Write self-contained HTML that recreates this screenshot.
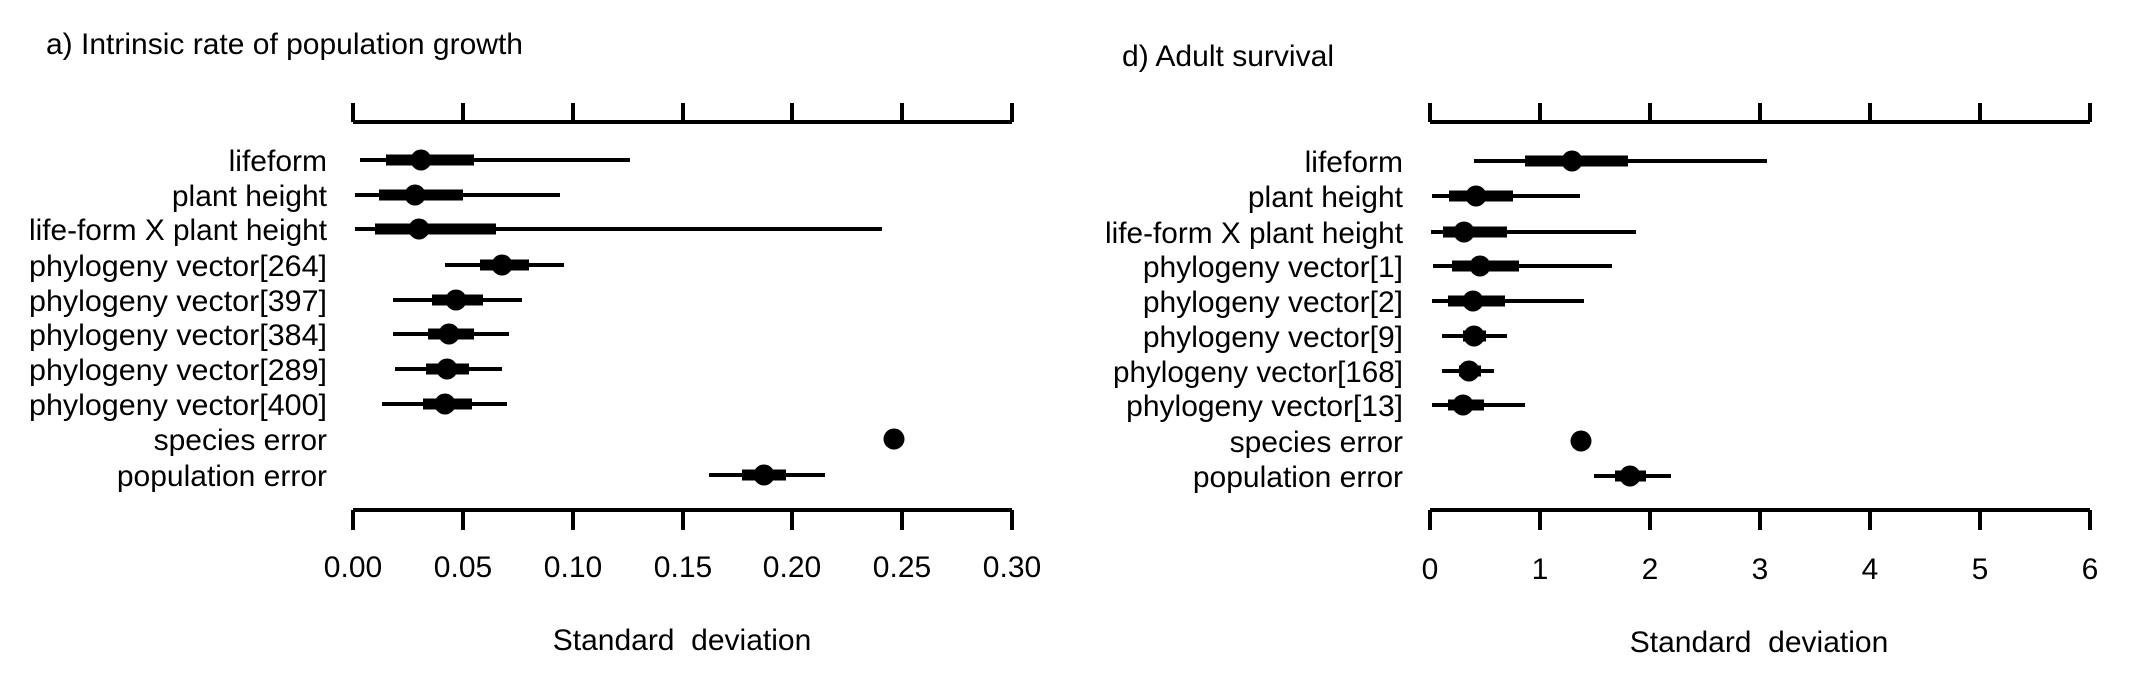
<!DOCTYPE html>
<html><head><meta charset="utf-8"><style>
html,body{margin:0;padding:0;background:#fff;}
svg{display:block;}
text{font-family:"Liberation Sans",Arial,sans-serif;font-size:30px;fill:#000;}
</style></head><body>
<svg width="2134" height="694" viewBox="0 0 2134 694" xmlns="http://www.w3.org/2000/svg">
<g stroke="#000" stroke-linecap="butt">
<line x1="353" y1="122" x2="1012" y2="122" stroke-width="4"/>
<line x1="353" y1="510" x2="1012" y2="510" stroke-width="4"/>
<g stroke-width="4">
<line x1="353" y1="103" x2="353" y2="122"/><line x1="463" y1="103" x2="463" y2="122"/><line x1="573" y1="103" x2="573" y2="122"/><line x1="683" y1="103" x2="683" y2="122"/><line x1="792" y1="103" x2="792" y2="122"/><line x1="902" y1="103" x2="902" y2="122"/><line x1="1012" y1="103" x2="1012" y2="122"/>
<line x1="353" y1="510" x2="353" y2="530"/><line x1="463" y1="510" x2="463" y2="530"/><line x1="573" y1="510" x2="573" y2="530"/><line x1="683" y1="510" x2="683" y2="530"/><line x1="792" y1="510" x2="792" y2="530"/><line x1="902" y1="510" x2="902" y2="530"/><line x1="1012" y1="510" x2="1012" y2="530"/>
</g>
<line x1="1430" y1="122" x2="2090" y2="122" stroke-width="4"/>
<line x1="1430" y1="510" x2="2090" y2="510" stroke-width="4"/>
<g stroke-width="4">
<line x1="1430" y1="103" x2="1430" y2="122"/><line x1="1540" y1="103" x2="1540" y2="122"/><line x1="1650" y1="103" x2="1650" y2="122"/><line x1="1760" y1="103" x2="1760" y2="122"/><line x1="1870" y1="103" x2="1870" y2="122"/><line x1="1980" y1="103" x2="1980" y2="122"/><line x1="2090" y1="103" x2="2090" y2="122"/>
<line x1="1430" y1="510" x2="1430" y2="530"/><line x1="1540" y1="510" x2="1540" y2="530"/><line x1="1650" y1="510" x2="1650" y2="530"/><line x1="1760" y1="510" x2="1760" y2="530"/><line x1="1870" y1="510" x2="1870" y2="530"/><line x1="1980" y1="510" x2="1980" y2="530"/><line x1="2090" y1="510" x2="2090" y2="530"/>
</g>
</g>

<g stroke="#000">
<g stroke-width="4">
<line x1="360" y1="160" x2="630" y2="160"/>
<line x1="355" y1="195" x2="560" y2="195"/>
<line x1="355" y1="229" x2="882" y2="229"/>
<line x1="445" y1="265" x2="564" y2="265"/>
<line x1="393" y1="300" x2="522" y2="300"/>
<line x1="393" y1="334" x2="509" y2="334"/>
<line x1="395" y1="369" x2="502" y2="369"/>
<line x1="382" y1="404" x2="507" y2="404"/>
<line x1="709" y1="475" x2="825" y2="475"/>
</g>
<g stroke-width="11">
<line x1="386" y1="160" x2="474" y2="160"/>
<line x1="379" y1="195" x2="463" y2="195"/>
<line x1="375" y1="229" x2="496" y2="229"/>
<line x1="480" y1="265" x2="529" y2="265"/>
<line x1="432" y1="300" x2="483" y2="300"/>
<line x1="428" y1="334" x2="474" y2="334"/>
<line x1="426" y1="369" x2="469" y2="369"/>
<line x1="423" y1="404" x2="472" y2="404"/>
<line x1="742" y1="475" x2="786" y2="475"/>
</g>
</g>
<g fill="#000">
<circle cx="421" cy="160" r="10.5"/>
<circle cx="415" cy="195" r="10.5"/>
<circle cx="419" cy="229" r="10.5"/>
<circle cx="502" cy="265" r="10.5"/>
<circle cx="456" cy="300" r="10.5"/>
<circle cx="449" cy="334" r="10.5"/>
<circle cx="447" cy="369" r="10.5"/>
<circle cx="445" cy="404" r="10.5"/>
<circle cx="894" cy="439" r="10.5"/>
<circle cx="764" cy="475" r="10.5"/>
</g>

<g stroke="#000">
<g stroke-width="4">
<line x1="1474" y1="161" x2="1767" y2="161"/>
<line x1="1432" y1="196" x2="1580" y2="196"/>
<line x1="1431" y1="232" x2="1636" y2="232"/>
<line x1="1433" y1="266" x2="1612" y2="266"/>
<line x1="1432" y1="301" x2="1584" y2="301"/>
<line x1="1442" y1="336" x2="1507" y2="336"/>
<line x1="1442" y1="371" x2="1494" y2="371"/>
<line x1="1432" y1="405" x2="1525" y2="405"/>
<line x1="1594" y1="476" x2="1671" y2="476"/>
</g>
<g stroke-width="11">
<line x1="1525" y1="161" x2="1628" y2="161"/>
<line x1="1449" y1="196" x2="1513" y2="196"/>
<line x1="1443" y1="232" x2="1507" y2="232"/>
<line x1="1452" y1="266" x2="1519" y2="266"/>
<line x1="1448" y1="301" x2="1505" y2="301"/>
<line x1="1463" y1="336" x2="1486" y2="336"/>
<line x1="1459" y1="371" x2="1481" y2="371"/>
<line x1="1448" y1="405" x2="1484" y2="405"/>
<line x1="1615" y1="476" x2="1646" y2="476"/>
</g>
</g>
<g fill="#000">
<circle cx="1572" cy="161" r="10.5"/>
<circle cx="1476" cy="196" r="10.5"/>
<circle cx="1464" cy="232" r="10.5"/>
<circle cx="1480" cy="266" r="10.5"/>
<circle cx="1473" cy="301" r="10.5"/>
<circle cx="1474" cy="336" r="10.5"/>
<circle cx="1469" cy="371" r="10.5"/>
<circle cx="1463" cy="405" r="10.5"/>
<circle cx="1581" cy="441" r="10.5"/>
<circle cx="1630" cy="476" r="10.5"/>
</g>

<text x="46" y="54" textLength="477" lengthAdjust="spacingAndGlyphs">a) Intrinsic rate of population growth</text>
<text x="1122" y="66" textLength="212" lengthAdjust="spacingAndGlyphs">d) Adult survival</text>

<g text-anchor="end">
<text x="327" y="171">lifeform</text>
<text x="327" y="206">plant height</text>
<text x="327" y="240" textLength="298" lengthAdjust="spacingAndGlyphs">life-form X plant height</text>
<text x="327" y="276" textLength="298" lengthAdjust="spacingAndGlyphs">phylogeny vector[264]</text>
<text x="327" y="311" textLength="298" lengthAdjust="spacingAndGlyphs">phylogeny vector[397]</text>
<text x="327" y="345" textLength="298" lengthAdjust="spacingAndGlyphs">phylogeny vector[384]</text>
<text x="327" y="380" textLength="298" lengthAdjust="spacingAndGlyphs">phylogeny vector[289]</text>
<text x="327" y="415" textLength="298" lengthAdjust="spacingAndGlyphs">phylogeny vector[400]</text>
<text x="327" y="450">species error</text>
<text x="327" y="486">population error</text>
</g>
<g text-anchor="end">
<text x="1403" y="172">lifeform</text>
<text x="1403" y="207">plant height</text>
<text x="1403" y="243" textLength="298" lengthAdjust="spacingAndGlyphs">life-form X plant height</text>
<text x="1403" y="277">phylogeny vector[1]</text>
<text x="1403" y="312">phylogeny vector[2]</text>
<text x="1403" y="347">phylogeny vector[9]</text>
<text x="1403" y="382" textLength="290" lengthAdjust="spacingAndGlyphs">phylogeny vector[168]</text>
<text x="1403" y="416">phylogeny vector[13]</text>
<text x="1403" y="452">species error</text>
<text x="1403" y="487">population error</text>
</g>

<g text-anchor="middle">
<text x="353" y="577">0.00</text><text x="463" y="577">0.05</text><text x="573" y="577">0.10</text><text x="683" y="577">0.15</text><text x="792" y="577">0.20</text><text x="902" y="577">0.25</text><text x="1012" y="577">0.30</text>
<text x="1430" y="579">0</text><text x="1540" y="579">1</text><text x="1650" y="579">2</text><text x="1760" y="579">3</text><text x="1870" y="579">4</text><text x="1980" y="579">5</text><text x="2090" y="579">6</text>
<text x="682" y="650" xml:space="preserve">Standard  deviation</text>
<text x="1759" y="652" xml:space="preserve">Standard  deviation</text>
</g>
</svg>
</body></html>
